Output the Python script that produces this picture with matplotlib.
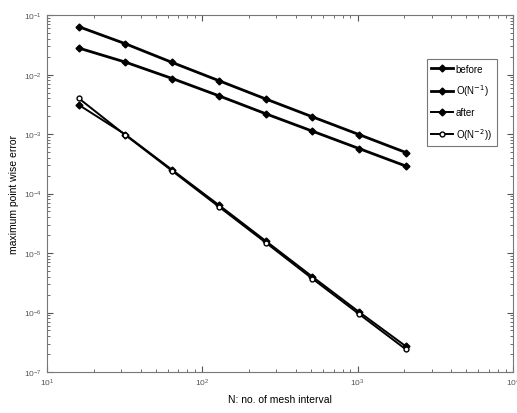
import numpy as np
import matplotlib
matplotlib.use("Agg")
import matplotlib.pyplot as plt
from matplotlib.ticker import LogLocator, NullFormatter

# mesh intervals N
N = [16, 32, 64, 128, 256, 512, 1024, 2048]

# maximum point wise error
before = [6.4e-2, 3.3e-2, 1.6e-2, 7.9e-3, 3.9e-3, 1.95e-3, 9.8e-4, 4.9e-4]
order1 = [2.8e-2, 1.62e-2, 8.6e-3, 4.4e-3, 2.2e-3, 1.12e-3, 5.7e-4, 2.9e-4]
after = [3.1e-3, 9.8e-4, 2.5e-4, 6.4e-5, 1.6e-5, 4.0e-6, 1.02e-6, 2.7e-7]
order2 = [4.0e-3, 9.6e-4, 2.4e-4, 6.0e-5, 1.5e-5, 3.7e-6, 9.4e-7, 2.4e-7]

labels = ["before", "O(N$^{-1}$)", "after", "O(N$^{-2}$))"]

plt.rcParams['font.family'] = ['Liberation Sans', 'DejaVu Sans']

fig = plt.figure(figsize=(5.17, 4.14), dpi=100)
ax = fig.add_axes([0.091, 0.099, 0.901, 0.862])

ax.loglog(N, before, '-D', color='black', lw=2, ms=3.5, label=labels[0])
ax.loglog(N, order1, '-D', color='black', lw=2, ms=3.5, label=labels[1])
ax.loglog(N, after, '-D', color='black', lw=1.4, ms=3.5, label=labels[2])
ax.loglog(N, order2, '-o', color='black', lw=1.4, ms=3.5, mfc='white', label=labels[3])

ax.set_xlim(10, 1e4)
ax.set_ylim(1e-7, 1e-1)
ax.xaxis.set_minor_locator(LogLocator(base=10, subs=np.arange(2, 10)))
ax.yaxis.set_minor_locator(LogLocator(base=10, subs=np.arange(2, 10)))
ax.xaxis.set_minor_formatter(NullFormatter())
ax.yaxis.set_minor_formatter(NullFormatter())

ax.tick_params(which='both', direction='in', top=True, right=True,
               colors='#555555', labelsize=6)
ax.tick_params(which='major', length=4)
ax.tick_params(which='minor', length=2)
for s in ax.spines.values():
    s.set_color('#777777')

ax.set_xlabel("N: no. of mesh interval", fontsize=7.5, labelpad=4)
ax.set_ylabel("maximum point wise error", fontsize=7.5, labelpad=4)

leg = ax.legend(loc='upper right', bbox_to_anchor=(0.976, 0.891), fontsize=7,
                frameon=True, fancybox=False, edgecolor='#555555',
                handlelength=2.2, labelspacing=0.9, borderpad=0.5,
                handletextpad=0.3)
leg.get_frame().set_linewidth(0.8)

fig.savefig("out.png", dpi=100)
